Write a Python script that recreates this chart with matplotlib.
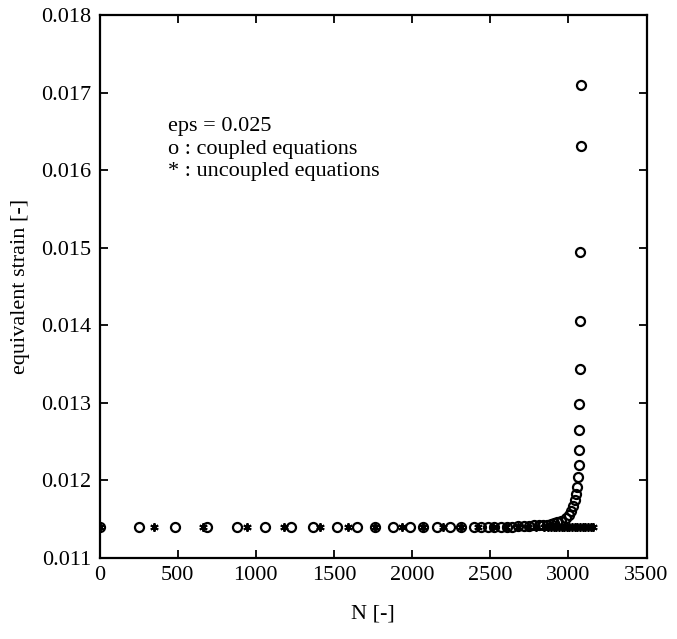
import matplotlib
matplotlib.use('Agg')
import matplotlib.pyplot as plt
from matplotlib.ticker import FormatStrFormatter, MultipleLocator

plt.rcParams['font.family'] = ['Liberation Serif', 'DejaVu Serif']

# coupled equations (o)
n_coupled = [0, 250, 484, 690, 881, 1061, 1227, 1369, 1518, 1646, 1762, 1879,
             1985, 2070, 2161, 2240, 2314, 2395, 2442, 2484, 2527, 2569, 2605,
             2642, 2678, 2714, 2748, 2780, 2810, 2838, 2864, 2888, 2910, 2930,
             2955, 2982, 3004, 3018, 3031, 3042, 3050, 3057, 3062, 3065, 3067,
             3069, 3071, 3073, 3074, 3076, 3078, 3078]
eps_coupled = [0.01140, 0.01140, 0.01140, 0.01140, 0.01140, 0.01140, 0.01140,
               0.01140, 0.01140, 0.01140, 0.01140, 0.01140, 0.01140, 0.01140,
               0.01140, 0.01140, 0.01140, 0.01140, 0.01140, 0.01140, 0.01140,
               0.01140, 0.01140, 0.01140, 0.01141, 0.01141, 0.01141, 0.01142,
               0.01142, 0.01143, 0.01143, 0.01144, 0.01145, 0.01146, 0.01148,
               0.01151, 0.01155, 0.01160, 0.01167, 0.01174, 0.01182, 0.01192,
               0.01204, 0.01220, 0.01239, 0.01265, 0.01299, 0.01344, 0.01406,
               0.01495, 0.01632, 0.01710]

# uncoupled equations (*)
n_uncoupled = [0, 346, 665, 945, 1178, 1408, 1592, 1762, 1936, 2070, 2197, 2314,
               2420, 2515, 2600, 2675, 2740, 2795, 2845, 2870, 2888, 2905, 2922,
               2939, 2956, 2973, 2990, 3007, 3024, 3041, 3058, 3075, 3092, 3109,
               3126, 3143, 3155]
eps_uncoupled = [0.01140] * len(n_uncoupled)

fig = plt.figure(figsize=(6.77, 6.39), dpi=100)
ax = fig.add_axes([0.147, 0.127, 0.808, 0.849])

ax.plot(n_uncoupled, eps_uncoupled, linestyle='none', marker=(6, 2, 0),
        ms=6, mew=1.4, color='black')
ax.plot(n_coupled, eps_coupled, linestyle='none', marker='o', ms=6.5,
        mew=1.6, mfc='none', mec='black')

ax.set_xlim(0, 3500)
ax.set_ylim(0.011, 0.018)
ax.xaxis.set_major_locator(MultipleLocator(500))
ax.yaxis.set_major_locator(MultipleLocator(0.001))
ax.yaxis.set_major_formatter(FormatStrFormatter('%.3f'))
ax.xaxis.set_major_formatter(FormatStrFormatter('%d'))
ax.tick_params(direction='in', top=True, right=True, length=6, width=1.3,
               labelsize=16, pad=6)
for sp in ax.spines.values():
    sp.set_linewidth(1.6)

ax.set_xlabel('N [-]', fontsize=16, labelpad=14)
ax.set_ylabel('equivalent strain [-]', fontsize=16, labelpad=8)

ax.text(0.125, 0.812, 'eps = 0.025\no : coupled equations\n* : uncoupled equations',
        transform=ax.transAxes, fontsize=16, va='top', ha='left',
        linespacing=1.25)

fig.savefig('out.png', dpi=100)
